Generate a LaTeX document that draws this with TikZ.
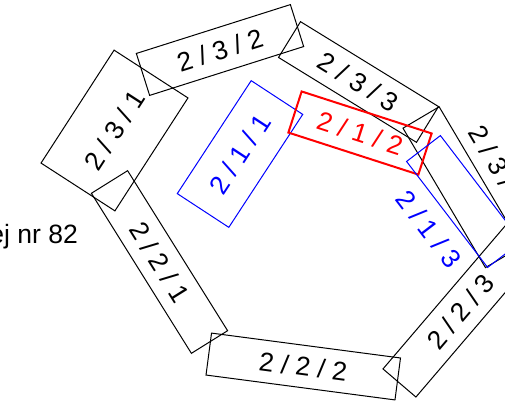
\documentclass[tikz,border=0pt]{standalone}
\usepackage{fontspec}
\setmainfont{Liberation Sans}

\begin{document}
\begin{tikzpicture}[
    x=1pt, y=-1pt,
    plot/.style={draw, line width=1pt, inner sep=0pt, font=\fontsize{26.5}{30}\selectfont},
    nr/.style={inner sep=0pt, font=\fontsize{26.5}{30}\selectfont}
  ]
    \useasboundingbox (0,0) rectangle (505,405);
    \clip (0,0) rectangle (505,405);

    \node[plot, minimum width=134.5pt, minimum height=88pt, rotate=57.1] (p231) at (114.5,130.5) {2 / 3 / 1};
    \node[plot, minimum width=161.6pt, minimum height=44pt, rotate=17.6] (p232) at (220,50) {2 / 3 / 2};
    \node[plot, minimum width=162pt, minimum height=42pt, rotate=-31.6] (p233) at (358.5,82) {2 / 3 / 3};
    \node[plot, minimum width=162pt, minimum height=42pt, rotate=-59.4] (p234) at (462.3,187.2) {};
    \node[nr, rotate=-59.4] (n234) at (498,166) {2 / 3 / 4};

    \node[plot, minimum width=188.7pt, minimum height=42.7pt, rotate=-58] (p221) at (159.5,262) {2 / 2 / 1};
    \node[plot, minimum width=190.6pt, minimum height=42.3pt, rotate=-7.5] (p222) at (303.25,366.5) {2 / 2 / 2};
    \node[plot, minimum width=188pt, minimum height=43.3pt, rotate=49.5] (p223) at (460.5,311.5) {2 / 2 / 3};

    \node[plot, blue, text=blue, minimum width=135pt, minimum height=61.6pt, rotate=56.8] (p211) at (240,154) {2 / 1 / 1};
    \node[plot, red, text=red, line width=2pt, minimum width=136.6pt, minimum height=43.2pt, rotate=-17.9] (p212) at (360,133) {2 / 1 / 2};
    \node[plot, blue, minimum width=133.4pt, minimum height=42.6pt, rotate=-52.6] (p213) at (464,201.5) {};
    \node[nr, text=blue, rotate=-52.6] (n213) at (429,229) {2 / 1 / 3};

    \node[nr, anchor=base east] (road) at (78,243) {ej nr 82};
  \end{tikzpicture}
\end{document}
